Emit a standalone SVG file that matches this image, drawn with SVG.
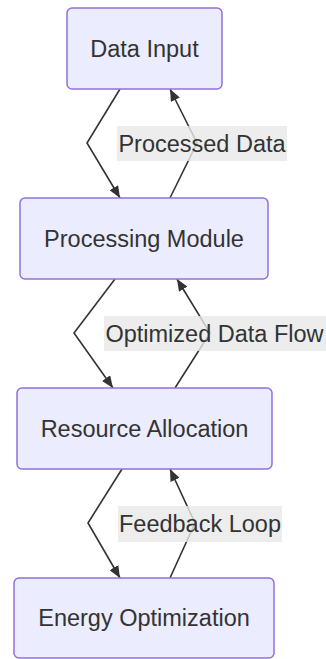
<svg xmlns="http://www.w3.org/2000/svg" width="326" height="659" viewBox="0 0 326 659">
  <style>
    .node rect { fill: #ECECFF; stroke: #9370DB; stroke-width: 1.5; }
    .node text, .label text { font-family: "Liberation Sans", Arial, sans-serif; font-size: 23.5px; fill: #333333; text-anchor: middle; dominant-baseline: central; }
    .edge { fill: none; stroke: #333333; stroke-width: 1.6; marker-end: url(#arrow); }
    .label rect { fill: #E8E8E8; opacity: 0.8; }
  </style>
  <defs>
    <marker id="arrow" viewBox="0 0 12 10" refX="12" refY="5" markerWidth="12" markerHeight="10" markerUnits="userSpaceOnUse" orient="auto">
      <path d="M0,0 L12,5 L0,10 z" fill="#333333"/>
    </marker>
  </defs>

  <!-- connectors -->
  <g id="edges">
    <polyline class="edge" points="120,89 87,143 120,198"/>
    <polyline class="edge" points="170,198 197,143 170,89"/>
    <polyline class="edge" points="115,279 74,333 113,388"/>
    <polyline class="edge" points="175,388 210,333 177,279"/>
    <polyline class="edge" points="122,469 88,523 120,578"/>
    <polyline class="edge" points="170,578 195,523 170,469"/>
  </g>

  <!-- edge labels -->
  <g id="edge-labels">
    <g class="label" id="label-processed">
      <rect x="117" y="126" width="170" height="35"/>
      <text x="202" y="143.5">Processed Data</text>
    </g>
    <g class="label" id="label-optimized">
      <rect x="104" y="316" width="223" height="35"/>
      <text x="214.5" y="333.5">Optimized Data Flow</text>
    </g>
    <g class="label" id="label-feedback">
      <rect x="118" y="506" width="164" height="36"/>
      <text x="200" y="524">Feedback Loop</text>
    </g>
  </g>

  <!-- nodes -->
  <g class="node" id="data-input">
    <rect x="67" y="8" width="155" height="81" rx="5"/>
    <text x="144.5" y="48.5">Data Input</text>
  </g>
  <g class="node" id="processing-module">
    <rect x="20" y="198" width="248" height="81" rx="5"/>
    <text x="144" y="238.5">Processing Module</text>
  </g>
  <g class="node" id="resource-allocation">
    <rect x="17" y="388" width="255" height="81" rx="5"/>
    <text x="144.5" y="428.5">Resource Allocation</text>
  </g>
  <g class="node" id="energy-optimization">
    <rect x="14" y="578" width="260" height="80" rx="5"/>
    <text x="144" y="618">Energy Optimization</text>
  </g>
</svg>
